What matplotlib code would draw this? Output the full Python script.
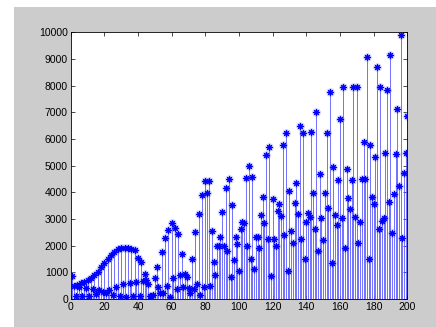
import numpy as np
import matplotlib
matplotlib.use("Agg")
import matplotlib.pyplot as plt
from matplotlib.patches import Rectangle

# sample values, one per index 1..200
counts = [
    860, 490, 110, 525, 460, 590, 110, 640, 420, 710,
    130, 800, 380, 900, 200, 1025, 330, 1190, 280, 1340,
    240, 1510, 350, 1650, 150, 1770, 460, 1860, 100, 1900,
    550, 1920, 90, 1900, 610, 1870, 120, 1830, 640, 1525,
    130, 1400, 660, 940, 710, 560, 130, 120, 150, 775,
    1210, 440, 240, 1775, 240, 2275, 500, 2590, 90, 2840,
    775, 2650, 360, 2425, 900, 1690, 440, 940, 810, 400,
    210, 1500, 360, 2525, 560, 3190, 150, 3890, 440, 4425,
    3990, 4425, 500, 2550, 1400, 900, 1990, 1990, 2340, 3275,
    1990, 4150, 1810, 4500, 810, 3510, 1460, 2340, 2060, 1060,
    2610, 2900, 2840, 4525, 1990, 5000, 1490, 4560, 1110, 2340,
    2310, 1900, 3150, 3840, 2860, 5400, 2240, 5690, 860, 3740,
    2240, 1990, 3310, 3560, 3110, 5775, 2400, 6210, 1060, 4060,
    2550, 2090, 3610, 4340, 3190, 6500, 2240, 6210, 1500, 2900,
    3240, 3060, 6275, 3990, 2610, 7000, 1810, 4690, 3020, 2210,
    3960, 6210, 3400, 7760, 1340, 4960, 3150, 2775, 4460, 6740,
    3020, 7960, 1900, 4860, 3775, 3360, 4460, 7940, 3060, 7960,
    2090, 2900, 4490, 5900, 4490, 9060, 1490, 5775, 3840, 3560,
    5310, 8690, 2610, 7940, 2940, 3020, 5460, 7840, 3650, 9150,
    2460, 3940, 5440, 7110, 4240, 9900, 2275, 4710, 5460, 6875,
]
idx = np.arange(1, len(counts) + 1)

xticks = [0, 20, 40, 60, 80, 100, 120, 140, 160, 180, 200]
yticks = [0, 1000, 2000, 3000, 4000, 5000, 6000, 7000, 8000, 9000, 10000]

plt.rcParams['font.family'] = ['Liberation Sans', 'DejaVu Sans']

fig = plt.figure(figsize=(4.36, 3.27), dpi=100)
fig.patch.set_facecolor('white')
fig.patches.append(Rectangle((14 / 436, 0), 1, 320 / 327, transform=fig.transFigure,
                             facecolor='#cccccc', edgecolor='none', zorder=-10))

ax = fig.add_axes([70.7 / 436, 28 / 327, 336.6 / 436, 266.7 / 327])
ax.set_facecolor('white')

star = (8, 2, 0)
# soft halo under the markers
ax.plot(idx, counts, ls='none', marker=star, ms=6, mew=1.6, color='#9a9aff', alpha=0.45, zorder=2)
markers, stems, base = ax.stem(idx, counts, linefmt='-', markerfmt='*', basefmt=' ')
plt.setp(stems, color='#5a5aff', linewidth=0.6)
plt.setp(markers, color='#0000ff', marker=star, markersize=4.5, markeredgewidth=0.8, zorder=3)

ax.set_xlim(0, 200)
ax.set_ylim(0, 10000)
ax.set_xticks(xticks)
ax.set_yticks(yticks)
ax.set_xticklabels([str(t) for t in xticks])
ax.set_yticklabels([str(t) for t in yticks])
ax.tick_params(direction='in', length=3, width=0.5, top=True, right=True,
               labelsize=7.5, pad=2)
for s in ax.spines.values():
    s.set_linewidth(0.6)

fig.savefig('out.png', dpi=100)
